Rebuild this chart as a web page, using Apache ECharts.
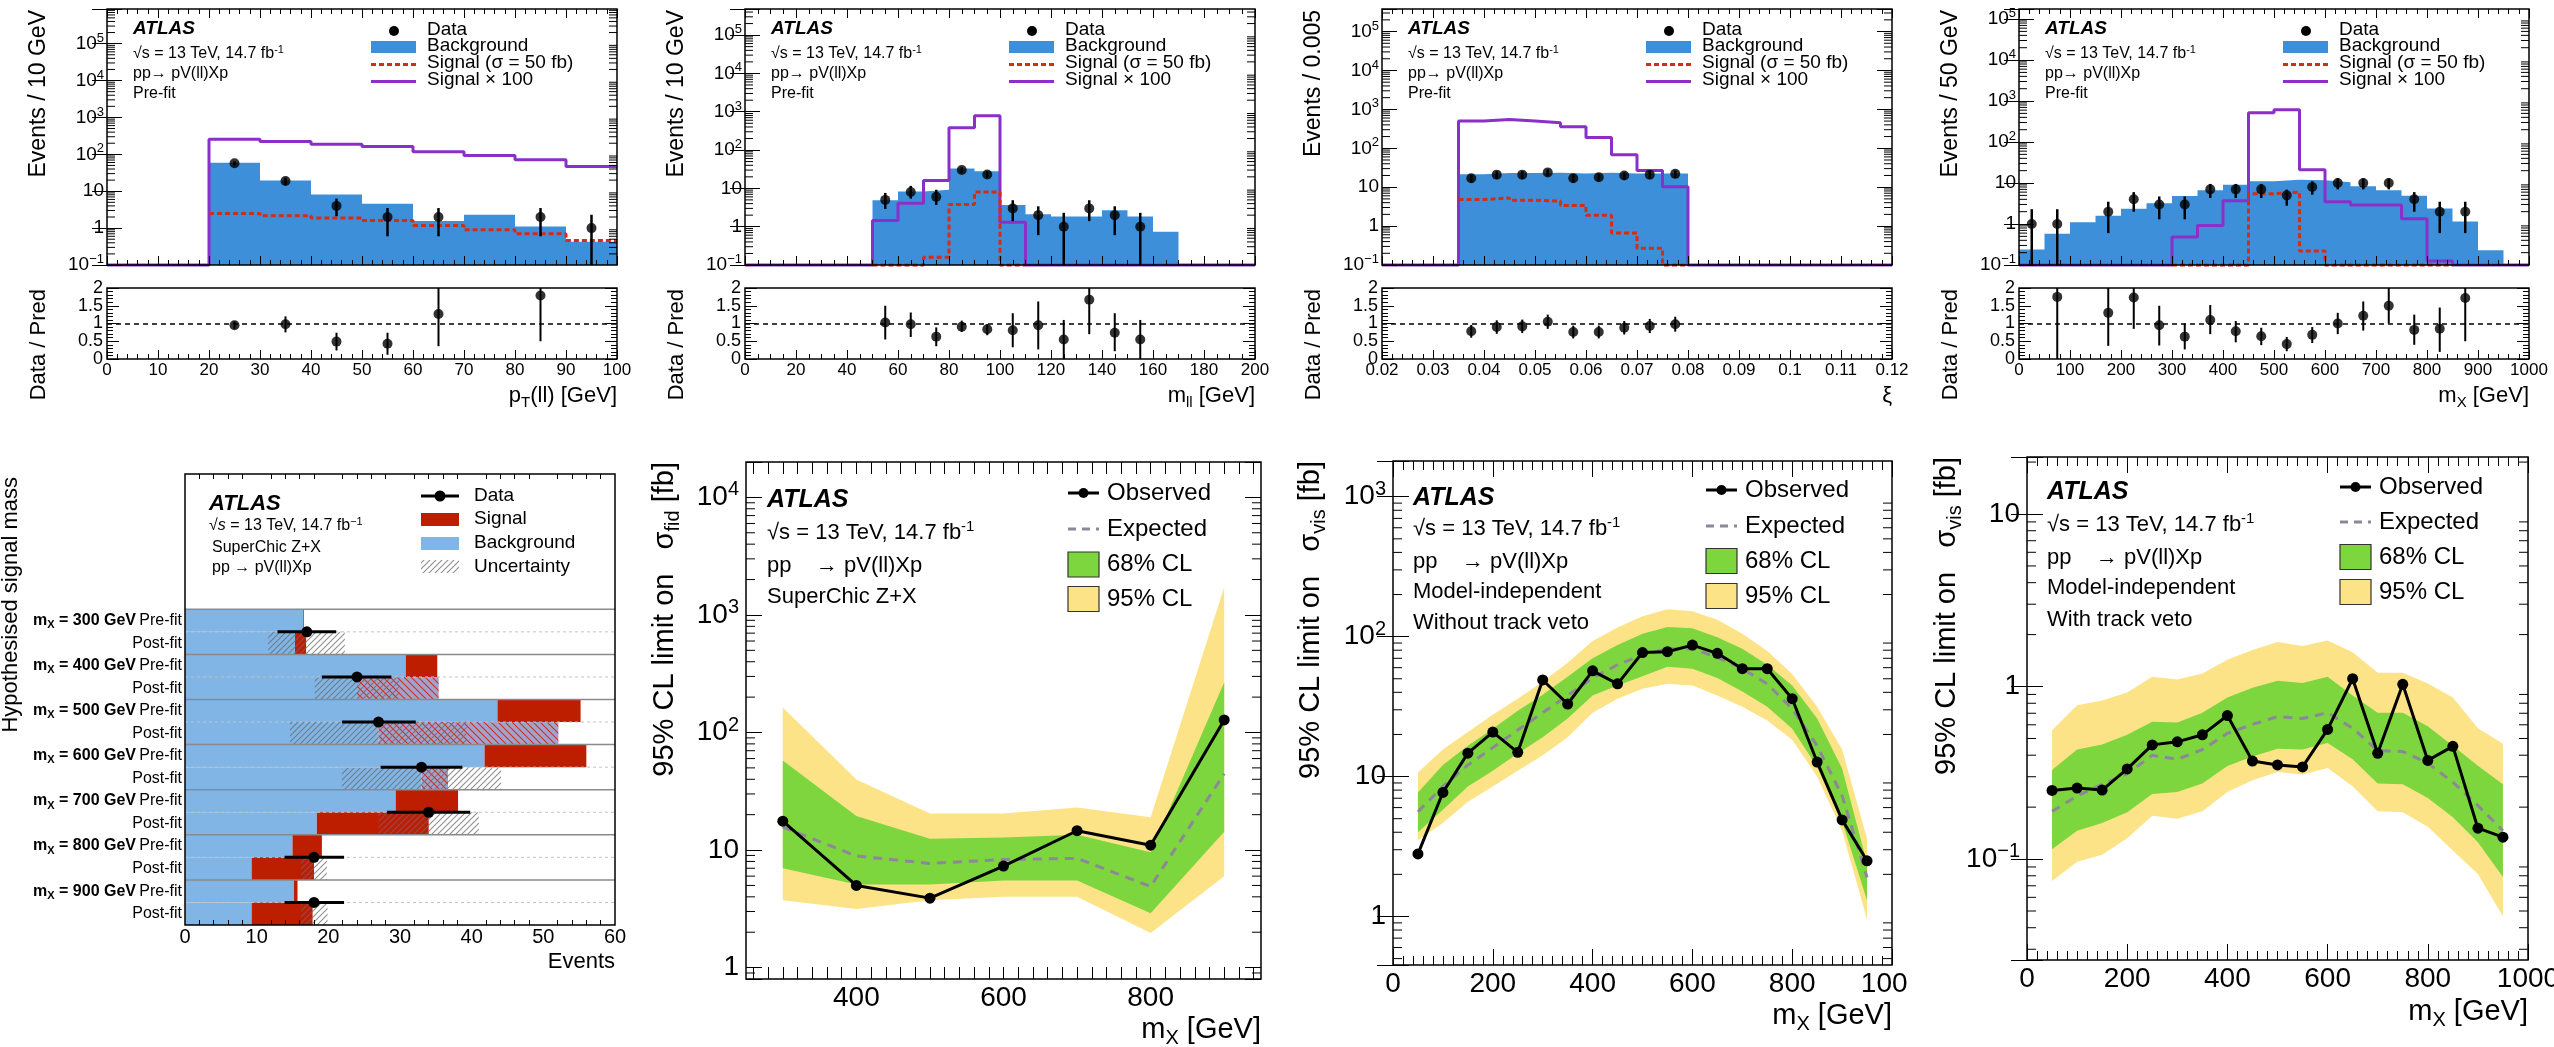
<!DOCTYPE html>
<html><head><meta charset="utf-8">
<script src="https://cdn.jsdelivr.net/npm/echarts@6/dist/echarts.min.js"></script>
<style>html,body{margin:0;padding:0;background:#fff}#c{width:2554px;height:1047px}</style>
</head><body><div id="c"></div>
<script>
// ================= DATA =================
// (a) pT(ll)
const ptEdges=[0,10,20,30,40,50,60,70,80,90,100];
const ptBkg=[0,0,59,19.5,8.1,4.6,1.55,2.3,1.1,0.43];
const ptSig=[null,null,2.5,2.17,1.87,1.62,1.18,0.9,0.7,0.46];
const ptSig100=[0,0,257,223,187,162,118,93,71,47];
const ptDataX=[25,35,45,55,65,85,95];
const ptData=[57,19,4,2,2,2,1];
const ptDataLo=[49.5,14.6,2.1,0.6,0.6,0.6,0];
const ptDataHi=[64.5,23.4,6.3,3.5,3.5,3.5,2.3];
const ptRatioX=[25,35,45,55,65,85];
const ptRatio=[0.95,0.98,0.49,0.43,1.27,1.79];
const ptRatioLo=[0.85,0.75,0.24,0.12,0.36,0.5];
const ptRatioHi=[1.06,1.2,0.74,0.74,2.1,2.1];
// (b) m_ll
const mllEdges=[0,10,20,30,40,50,60,70,80,90,100,110,120,130,140,150,160,170,180,190,200];
const mllBkg=[0,0,0,0,0,4.9,8.3,9.2,33,28,3.7,2.1,1.85,1.85,2.7,1.85,0.74,0,0,0];
const mllSig=[null,null,null,null,null,0,0,0.16,3.8,8,0,null,null,null,null,null,null,null,null,null];
const mllSig100=[0,0,0,0,0,1.45,4.1,16,380,790,1.3,0,0,0,0,0,0,0,0,0];
const mllDataX=[55,65,75,85,95,105,115,125,135,145,155];
const mllData=[5,8,6,30,23,3,2,1,3,2,1];
const mllDataLo=[2.9,5.4,3.7,25,18.5,1.4,0.6,0,1.4,0.6,0];
const mllDataHi=[7.6,11.6,9.2,35.5,28,4.9,3.4,2.3,4.9,3.4,2.3];
const mllRatio=[1.03,0.98,0.63,0.91,0.84,0.81,0.95,0.55,1.67,0.74,0.55];
const mllRatioLo=[0.55,0.62,0.36,0.76,0.67,0.33,0.27,0,0.7,0.22,0];
const mllRatioHi=[1.5,1.31,0.89,1.08,0.98,1.29,1.62,1.1,2.1,1.29,1.1];
// (c) xi
const xiEdges=[0.02,0.025,0.03,0.035,0.04,0.045,0.05,0.055,0.06,0.065,0.07,0.075,0.08,0.085,0.09,0.095,0.1,0.105,0.11,0.115,0.12];
const xiBkg=[0,0,0,21.5,23,23,23.5,22.5,23.5,22.5,22.5,22.5,0,0,0,0,0,0,0,0];
const xiSig=[null,null,null,4.8,5.3,4.6,4.4,3.4,1.9,0.66,0.27,0,null,null,null,null,null,null,null,null];
const xiSig100=[0,0,0,500,550,500,450,360,190,68,27,10.3,0,0,0,0,0,0,0,0];
const xiDataX=[0.0375,0.0425,0.0475,0.0525,0.0575,0.0625,0.0675,0.0725,0.0775];
const xiData=[17,21,21,24,17,18,20,21,22];
const xiDataLo=[12.9,16.4,16.4,19.1,12.9,13.8,15.5,16.4,17.3];
const xiDataHi=[21.1,25.6,25.6,28.9,21.1,22.2,24.5,25.6,26.7];
const xiRatio=[0.78,0.9,0.92,1.05,0.76,0.76,0.88,0.93,0.98];
const xiRatioLo=[0.6,0.71,0.73,0.85,0.58,0.58,0.69,0.73,0.77];
const xiRatioHi=[0.96,1.09,1.11,1.25,0.94,0.94,1.07,1.13,1.19];
// (d) m_X
const mxEdges=[0,50,100,150,200,250,300,350,400,450,500,550,600,650,700,750,800,850,900,950,1000];
const mxBkg=[0.24,0.58,1.1,1.58,2.35,3.2,4.8,6.7,9.1,11,12,11.7,10.5,8.3,6.7,4.9,2.4,1.15,0.23,0];
const mxSig=[null,null,null,null,null,null,0,0,0,5.5,6.0,0.22,0,0,0,0,0,null,null,null];
const mxSig100=[0,0,0,0,0,0,0.48,0.92,3.7,515,610,21,3.5,2.9,2.9,1.35,0.125,0,0,0];
const mxDataX=[25,75,175,225,275,325,375,425,475,525,575,625,675,725,775,825,875];
const mxData=[1,1,2,4,3,3,7,7,7,5,8,10,10,10,4,2,2];
const mxDataLo=[0,0,0.6,2,1.3,1.3,4.3,4.3,4.3,2.8,5.2,7,7,7,2,0.6,0.6];
const mxDataHi=[2.3,2.3,3.5,6,4.7,4.7,9.5,9.5,9.5,6.9,11,13,13,13,6,3.5,3.5];
const mxRatioX=[75,175,225,275,325,375,425,475,525,575,625,675,725,775,825,875];
const mxRatio=[1.75,1.3,1.73,0.95,0.63,1.1,0.78,0.64,0.42,0.68,1.0,1.22,1.5,0.82,0.85,1.72];
const mxRatioLo=[0,0.37,0.85,0.38,0.27,0.7,0.47,0.39,0.22,0.45,0.7,0.8,1.0,0.4,0.2,0.5];
const mxRatioHi=[2.1,2.1,2.1,1.5,1.0,1.52,1.07,0.88,0.62,0.9,1.3,1.62,2.0,1.25,1.45,2.1];
// (e) event yields
const masses=[300,400,500,600,700,800,900];
const preBkg=[16.5,30.8,43.6,41.8,29.4,15.0,15.2];
const preTot=[16.6,35.2,55.2,56.0,38.1,19.1,15.7];
const postBkg=[15.35,35.4,52.1,36.7,18.4,9.3,9.3];
const postTot=[16.9,24.0,27.0,33.0,34.0,18.0,17.8];
const uncLo=[11.6,18.1,14.65,21.9,27.0,16.2,16.2];
const uncHi=[22.3,29.9,39.3,44.1,41.0,19.8,19.9];
const obsEv=[17,24,27,33,34,18,18];
const obsEvLo=[12.9,19.1,21.9,27.3,28.2,13.9,13.9];
const obsEvHi=[21.1,28.8,32.2,38.7,39.8,22.2,22.2];
// (f) sigma_fid limits
const fidX=[300,400,500,600,700,800,900];
const fidObs=[17.6,5.0,3.9,7.3,14.6,11.0,128];
const fidExp=[15.7,8.9,7.7,8.3,8.5,4.9,44.6];
const fid68Lo=[7.0,5.1,5.1,5.5,5.5,2.9,14.3];
const fid68Hi=[57.7,19.5,12.5,12.8,13.5,9.6,267];
const fid95Lo=[3.75,3.15,3.75,4.0,4.0,1.97,6.0];
const fid95Hi=[163,39.8,20.5,20.5,23,19,1720];
// (g) sigma_vis, without track veto
const visX=[50,100,150,200,250,300,350,400,450,500,550,600,650,700,750,800,850,900,950];
const visObs=[2.8,7.7,14.7,20.8,14.9,49,33,57,46,77,78,87,76,59,59,36,12.7,4.9,2.5];
const visExp=[5.6,8.5,12.1,16.1,21.5,28.6,38,50.7,63,74,82,82,71,59,46,30.5,16.6,7.3,1.9];
const vis68Lo=[4.0,5.8,8.5,11,14.6,19.1,26,38,44.7,52,61,59,50.7,40.5,31.5,22,11.7,4.8,1.3];
const vis68Hi=[7.7,12.1,16.6,22,29.5,38.5,51.6,70,87,105,117,115,99,82,63,44.7,26,11.4,2.4];
const vis95Lo=[3.5,4.65,6.6,8.5,11,14.2,19.1,28.6,36,42.4,46,44.7,38,31.5,25.2,18.3,10,4.1,0.95];
const vis95Hi=[10.7,15.6,20.8,27.7,36,47.5,65,93,116,140,157,152,132,105,79,54,31.5,15.6,3.6];
// (h) sigma_vis, with track veto
const vetoX=[50,100,150,200,250,300,350,400,450,500,550,600,650,700,750,800,850,900,950];
const vetoObs=[0.25,0.258,0.251,0.333,0.459,0.478,0.525,0.679,0.37,0.351,0.342,0.564,1.11,0.41,1.03,0.373,0.45,0.151,0.134];
const vetoExp=[0.189,0.232,0.271,0.313,0.399,0.379,0.431,0.536,0.603,0.669,0.652,0.705,0.573,0.425,0.42,0.36,0.279,0.204,0.146];
const veto68Lo=[0.114,0.146,0.162,0.187,0.238,0.245,0.274,0.346,0.393,0.436,0.431,0.471,0.379,0.274,0.271,0.226,0.175,0.125,0.0787];
const veto68Hi=[0.328,0.431,0.461,0.525,0.625,0.619,0.705,0.865,0.985,1.08,1.05,1.14,0.888,0.705,0.705,0.588,0.454,0.347,0.271];
const veto95Lo=[0.0747,0.0966,0.106,0.132,0.178,0.171,0.189,0.245,0.286,0.32,0.309,0.337,0.264,0.189,0.187,0.154,0.112,0.082,0.0465];
const veto95Hi=[0.558,0.78,0.83,0.925,1.14,1.1,1.19,1.43,1.63,1.81,1.72,1.85,1.58,1.2,1.2,1.04,0.865,0.573,0.466];

// ================= STYLE =================
const F="'Liberation Sans', Arial, Helvetica, sans-serif";
const C_BKG='#3d8fd9', C_SIG='#d42d14', C_S100='#8b2fc9';
const C_G='#7ed63e', C_Y='#fde387', C_EXP='#8c8799';
const C_LB='#80b5e5', C_RED='#be1e00', C_MAUVE='#a2a3cd';

const grids=[], xAxes=[], yAxes=[], series=[], graphics=[];
function grid(l,t,r,b){grids.push({left:l,top:t,width:r-l,height:b-t,show:true,borderColor:'#000',borderWidth:1.5,backgroundColor:'rgba(0,0,0,0)',containLabel:false,outerBoundsMode:'none',z:10});return grids.length-1;}
function xax(o){xAxes.push(o);return xAxes.length-1;}
function yax(o){yAxes.push(o);return yAxes.length-1;}

function isDecade(v){const l=Math.log10(v);return Math.abs(l-Math.round(l))<1e-6;}
function logLabel(v){if(!isDecade(v))return '';const e=Math.round(Math.log10(v));if(e===0)return '{b|1}';if(e===1)return '{b|10}';return '{b|10}{s|'+(e<0?'\u2212'+(-e):e)+'}';}
function logRich(fs){const s=Math.round(fs*0.7);return {b:{fontSize:fs,fontFamily:F,color:'#000',lineHeight:Math.round(fs*1.25)},s:{fontSize:s,fontFamily:F,color:'#000',verticalAlign:'top',lineHeight:s}};}
function txtRich(fs){const s=Math.round(fs*0.68);return {n:{fontSize:fs,fontFamily:F,fill:'#000',lineHeight:Math.round(fs*1.25)},i:{fontSize:fs,fontFamily:F,fontStyle:'italic',fill:'#000',lineHeight:Math.round(fs*1.25)},s:{fontSize:s,fontFamily:F,fill:'#000',verticalAlign:'top',lineHeight:s},sub:{fontSize:s,fontFamily:F,fill:'#000',verticalAlign:'bottom',lineHeight:s}};}
function T(x,y,text,fs,o){o=o||{};const al=o.align||'left';
  const st={text:text,fontSize:fs,fontFamily:F,fill:'#000',align:al,textAlign:al,verticalAlign:'middle',textVerticalAlign:'middle'};
  if(o.bold)st.fontWeight='bold'; if(o.italic)st.fontStyle='italic';
  if(o.rich)st.rich=txtRich(fs);
  graphics.push({type:'text',x:x,y:y,rotation:o.rot||0,z:100,silent:true,style:st});}
function G(el){el.z=100;el.silent=true;graphics.push(el);}

function logMinor(min,max){const out=[];for(let n=Math.floor(Math.log10(min))-1;n<=Math.ceil(Math.log10(max));n++){for(let m=2;m<=9;m++){const v=m*Math.pow(10,n);if(v>min*1.0001&&v<max*0.9999)out.push(v);}}return out;}
function minorTickSeries(xi,yi,xmin,vals,len){
  return {type:'custom',xAxisIndex:xi,yAxisIndex:yi,silent:true,z:12,clip:false,data:vals.map(v=>[xmin,v]),
    renderItem:(p,api)=>{const cs=p.coordSys;const y=api.coord([api.value(0),api.value(1)])[1];
      return {type:'group',children:[
        {type:'line',shape:{x1:cs.x,y1:y,x2:cs.x+len,y2:y},style:{stroke:'#000',lineWidth:1}},
        {type:'line',shape:{x1:cs.x+cs.width,y1:y,x2:cs.x+cs.width-len,y2:y},style:{stroke:'#000',lineWidth:1}}]};}};
}
function errSeries(xi,yi,xs,lo,hi,cmin,cmax,lw){
  return {type:'custom',xAxisIndex:xi,yAxisIndex:yi,silent:true,z:9,clip:false,
    data:xs.map((x,i)=>[x,Math.max(lo[i],cmin),Math.min(hi[i],cmax)]),encode:{x:0,y:[1,2]},
    renderItem:(p,api)=>{const a=api.coord([api.value(0),api.value(1)]);const b=api.coord([api.value(0),api.value(2)]);
      return {type:'line',shape:{x1:a[0],y1:a[1],x2:b[0],y2:b[1]},style:{stroke:'#000',lineWidth:lw}};}};
}
function stepPts(edges,vals,floor,dropZero){
  const pts=[];let last=null;
  for(let i=0;i<vals.length;i++){let v=vals[i];const empty=(v==null)||(dropZero&&!(v>0));
    if(empty){if(last!==null){pts.push([edges[i],last]);pts.push([edges[i],null]);last=null;}continue;}
    if(v<floor)v=floor;pts.push([edges[i],v]);last=v;}
  if(last!==null)pts.push([edges[vals.length],last]);
  return pts;
}
const isInt=v=>Math.abs(v-Math.round(v))<1e-9;

// ================= TOP ROW: distributions =================
function histPanel(c){
  const L=c.left,R=L+510,ymin=0.1;
  const gm=grid(L,9,R,265), gr=grid(L,288,R,359);
  const tick={inside:true,length:9,lineStyle:{color:'#000',width:1}};
  const mt={show:true,splitNumber:c.minor,length:5,lineStyle:{color:'#000',width:1}};
  const xb={type:'value',min:c.xmin,max:c.xmax,interval:c.xint,axisLine:{show:false},splitLine:{show:false},z:11};
  const xm=xax(Object.assign({gridIndex:gm,position:'bottom',axisTick:tick,minorTick:mt,axisLabel:{show:false}},xb));
  xax(Object.assign({gridIndex:gm,position:'top',axisTick:tick,minorTick:mt,axisLabel:{show:false}},xb));
  const yl={type:'log',logBase:10,min:ymin,max:c.ymax,axisLine:{show:false},splitLine:{show:false},z:11,axisTick:{inside:true,length:15,lineStyle:{color:'#000',width:1}}};
  const ym=yax(Object.assign({gridIndex:gm,position:'left',axisLabel:{formatter:logLabel,rich:logRich(19),margin:3,showMinLabel:true}},yl));
  yax(Object.assign({gridIndex:gm,position:'right',axisLabel:{show:false}},yl));
  const xr=xax(Object.assign({gridIndex:gr,position:'bottom',axisTick:tick,minorTick:mt,axisLabel:{fontSize:17,fontFamily:F,color:'#000',margin:3,formatter:c.xfmt,showMinLabel:true,showMaxLabel:true}},xb));
  const yrb={type:'value',min:0,max:2,interval:0.5,axisLine:{show:false},splitLine:{show:false},z:11};
  const lab={fontSize:18,fontFamily:F,color:'#000',margin:4,showMinLabel:true,showMaxLabel:true,hideOverlap:false};
  // integer labels + ticks
  const yr=yax(Object.assign({gridIndex:gr,position:'left',axisTick:{inside:true,length:12,lineStyle:{color:'#000'}},minorTick:{show:true,splitNumber:5,length:6,lineStyle:{color:'#000'}},
    axisLabel:Object.assign({formatter:v=>isInt(v)?String(Math.round(v)):''},lab)},yrb));
  // half-integer labels
  yax(Object.assign({gridIndex:gr,position:'left',offset:0,axisTick:{show:false},
    axisLabel:Object.assign({formatter:v=>isInt(v)?'':String(v),showMinLabel:false,showMaxLabel:false},lab)},yrb));
  yax(Object.assign({gridIndex:gr,position:'right',axisTick:{inside:true,length:12,lineStyle:{color:'#000'}},minorTick:{show:true,splitNumber:5,length:6,lineStyle:{color:'#000'}},axisLabel:{show:false}},yrb));

  series.push({type:'line',xAxisIndex:xm,yAxisIndex:ym,step:'end',symbol:'none',silent:true,z:1,data:stepPts(c.edges,c.bkg,ymin,true),lineStyle:{width:0,color:C_BKG},areaStyle:{color:C_BKG,opacity:1,origin:'start'}});
  series.push({type:'line',xAxisIndex:xm,yAxisIndex:ym,step:'end',symbol:'none',silent:true,z:3,clip:false,data:stepPts(c.edges,c.sig100,ymin,false),lineStyle:{width:3,color:C_S100}});
  series.push({type:'line',xAxisIndex:xm,yAxisIndex:ym,step:'end',symbol:'none',silent:true,z:4,clip:false,data:stepPts(c.edges,c.sig,ymin,false),lineStyle:{width:3,color:C_SIG,type:[5,3]}});
  series.push(errSeries(xm,ym,c.dx,c.dlo,c.dhi,ymin,c.ymax,2.5));
  series.push({type:'scatter',xAxisIndex:xm,yAxisIndex:ym,symbol:'circle',symbolSize:10,itemStyle:{color:'#000'},z:10,silent:true,data:c.dx.map((x,i)=>[x,c.dy[i]])});
  series.push(minorTickSeries(xm,ym,c.xmin,logMinor(ymin,c.ymax),8));
  series.push(errSeries(xr,yr,c.rx,c.rlo,c.rhi,0,2,2));
  series.push({type:'scatter',xAxisIndex:xr,yAxisIndex:yr,symbol:'circle',symbolSize:10,itemStyle:{color:'#000'},z:10,silent:true,data:c.rx.map((x,i)=>[x,c.ry[i]]),
    markLine:{silent:true,symbol:['none','none'],label:{show:false},lineStyle:{color:'#000',width:1.5,type:[5,4]},data:[{yAxis:1}]}});

  // texts
  T(L+26,28.6,'ATLAS',19,{bold:true,italic:true});
  T(L+26,54,'{n|\u221As = 13 TeV, 14.7 fb}{s|-1}',16,{rich:true});
  T(L+26,74,'pp\u2192 pV(ll)Xp',16);
  T(L+26,94,'Pre-fit',16);
  // legend
  G({type:'circle',shape:{cx:L+287,cy:31,r:5},style:{fill:'#000'}});
  G({type:'rect',shape:{x:L+264,y:41,width:45,height:12},style:{fill:C_BKG}});
  G({type:'line',shape:{x1:L+264,y1:64.5,x2:L+309,y2:64.5},style:{stroke:C_SIG,lineWidth:3,lineDash:[5,3]}});
  G({type:'line',shape:{x1:L+264,y1:81.5,x2:L+309,y2:81.5},style:{stroke:C_S100,lineWidth:3}});
  T(L+320,29.6,'Data',19); T(L+320,45.5,'Background',19);
  T(L+320,63,'Signal (\u03C3 = 50 fb)',19); T(L+320,80,'Signal \u00D7 100',19);
  // axis titles
  T(L-68,10,c.ytitle,23,{rot:Math.PI/2,align:'right'});
  T(L-68,289,'Data / Pred',22,{rot:Math.PI/2,align:'right'});
  T(R,396,c.xtitle,22,{align:'right',rich:true});
}
const intFmt=v=>String(Math.round(v));
histPanel({left:107,xmin:0,xmax:100,xint:10,minor:5,ymax:8.7e5,edges:ptEdges,bkg:ptBkg,sig:ptSig,sig100:ptSig100,dx:ptDataX,dy:ptData,dlo:ptDataLo,dhi:ptDataHi,rx:ptRatioX,ry:ptRatio,rlo:ptRatioLo,rhi:ptRatioHi,ytitle:'Events / 10 GeV',xtitle:'{n|p}{sub|T}{n|(ll) [GeV]}',xfmt:intFmt});
histPanel({left:745,xmin:0,xmax:200,xint:20,minor:4,ymax:4.8e5,edges:mllEdges,bkg:mllBkg,sig:mllSig,sig100:mllSig100,dx:mllDataX,dy:mllData,dlo:mllDataLo,dhi:mllDataHi,rx:mllDataX,ry:mllRatio,rlo:mllRatioLo,rhi:mllRatioHi,ytitle:'Events / 10 GeV',xtitle:'{n|m}{sub|ll}{n| [GeV]}',xfmt:intFmt});
histPanel({left:1382,xmin:0.02,xmax:0.12,xint:0.01,minor:5,ymax:3.8e5,edges:xiEdges,bkg:xiBkg,sig:xiSig,sig100:xiSig100,dx:xiDataX,dy:xiData,dlo:xiDataLo,dhi:xiDataHi,rx:xiDataX,ry:xiRatio,rlo:xiRatioLo,rhi:xiRatioHi,ytitle:'Events / 0.005',xtitle:'{n|\u03BE}',xfmt:v=>String(+v.toFixed(3))});
histPanel({left:2019,xmin:0,xmax:1000,xint:100,minor:5,ymax:1.76e5,edges:mxEdges,bkg:mxBkg,sig:mxSig,sig100:mxSig100,dx:mxDataX,dy:mxData,dlo:mxDataLo,dhi:mxDataHi,rx:mxRatioX,ry:mxRatio,rlo:mxRatioLo,rhi:mxRatioHi,ytitle:'Events / 50 GeV',xtitle:'{n|m}{sub|X}{n| [GeV]}',xfmt:intFmt});

// ================= BOTTOM-LEFT: yields =================
function hatch(bg,color,dir,size,lw){
  const c=document.createElement('canvas');c.width=c.height=size;const g=c.getContext('2d');
  if(bg){g.fillStyle=bg;g.fillRect(0,0,size,size);}
  g.strokeStyle=color;g.lineWidth=lw;g.beginPath();
  if(dir>0){g.moveTo(0,size);g.lineTo(size,0);g.moveTo(-2,2);g.lineTo(2,-2);g.moveTo(size-2,size+2);g.lineTo(size+2,size-2);}
  else{g.moveTo(0,0);g.lineTo(size,size);g.moveTo(size-2,-2);g.lineTo(size+2,2);g.moveTo(-2,size-2);g.lineTo(2,size+2);}
  g.stroke();return c;
}
const PAT_UNC={image:hatch(null,'rgba(105,105,105,0.75)',1,6,1.1),repeat:'repeat'};
const PAT_NEG={image:hatch(C_MAUVE,'#d23020',-1,7,1.1),repeat:'repeat'};
function rowLabel(v){if(v.indexOf('pre')===0)return '{b|m}{bs|X}{b| = '+v.slice(3)+' GeV} {r|Pre-fit}';if(v.indexOf('post')===0)return '{r|Post-fit}';return '';}
function rectSeries(xi,yi,items,fill,z){
  return {type:'custom',xAxisIndex:xi,yAxisIndex:yi,silent:true,z:z,data:items,encode:{x:[0,2],y:1},
    renderItem:(p,api)=>{const a=api.coord([api.value(0),api.value(1)]);const b=api.coord([api.value(2),api.value(1)]);const h=api.size([0,1])[1];
      return {type:'rect',shape:{x:a[0],y:a[1]-h/2,width:b[0]-a[0],height:h},style:{fill:fill}};}};
}
(function(){
  const g=grid(185,474,615,925);
  const xb={type:'value',min:0,max:60,interval:10,axisLine:{show:false},splitLine:{show:false},z:11};
  const tick={inside:true,length:10,lineStyle:{color:'#000'}}, mt={show:true,splitNumber:5,length:5,lineStyle:{color:'#000'}};
  const xi=xax(Object.assign({gridIndex:g,position:'bottom',axisTick:tick,minorTick:mt,axisLabel:{fontSize:20,fontFamily:F,color:'#000',margin:2,showMinLabel:true,showMaxLabel:true}},xb));
  xax(Object.assign({gridIndex:g,position:'top',axisTick:tick,minorTick:mt,axisLabel:{show:false}},xb));
  const rows=['r0','r1','r2','r3','r4','r5'];masses.forEach(m=>{rows.push('pre'+m);rows.push('post'+m);});
  const yb={type:'category',data:rows,inverse:true,axisLine:{show:false},splitLine:{show:false},z:11,axisTick:{inside:true,length:8,alignWithLabel:true,interval:0,lineStyle:{color:'#000'}}};
  const rich={b:{fontSize:16,fontWeight:'bold',fontFamily:F,color:'#000',lineHeight:20},bs:{fontSize:11,fontWeight:'bold',fontFamily:F,color:'#000',verticalAlign:'bottom',lineHeight:11},r:{fontSize:16,fontFamily:F,color:'#000',lineHeight:20}};
  const yi=yax(Object.assign({gridIndex:g,position:'left',axisLabel:{interval:0,margin:3,formatter:rowLabel,rich:rich}},yb));
  yax(Object.assign({gridIndex:g,position:'right',axisLabel:{show:false}},yb));
  const bk=[],sg=[],ng=[],un=[];
  masses.forEach((m,i)=>{const pr=6+2*i,po=7+2*i;
    bk.push([0,pr,preBkg[i]]);bk.push([0,po,Math.min(postBkg[i],postTot[i])]);
    sg.push([preBkg[i],pr,preTot[i]]);
    if(postTot[i]>postBkg[i])sg.push([postBkg[i],po,postTot[i]]);else ng.push([postTot[i],po,postBkg[i]]);
    un.push([uncLo[i],po,uncHi[i]]);});
  series.push(rectSeries(xi,yi,bk,C_LB,2));
  series.push(rectSeries(xi,yi,sg,C_RED,3));
  series.push(rectSeries(xi,yi,ng,PAT_NEG,3));
  series.push(rectSeries(xi,yi,un,PAT_UNC,4));
  series.push({type:'custom',xAxisIndex:xi,yAxisIndex:yi,silent:true,z:6,data:masses.map((m,i)=>[0,6+2*i]),
    renderItem:(p,api)=>{const cs=p.coordSys;const y=api.coord([0,api.value(1)])[1];const h=api.size([0,1])[1];
      return {type:'group',children:[
        {type:'line',shape:{x1:cs.x,y1:y-h/2,x2:cs.x+cs.width,y2:y-h/2},style:{stroke:'#8a8a8a',lineWidth:1.5}},
        {type:'line',shape:{x1:cs.x,y1:y+h/2,x2:cs.x+cs.width,y2:y+h/2},style:{stroke:'#c4c4c4',lineWidth:1,lineDash:[3,3]}}]};}});
  series.push({type:'custom',xAxisIndex:xi,yAxisIndex:yi,silent:true,z:8,data:masses.map((m,i)=>[obsEv[i],7+2*i,obsEvLo[i],obsEvHi[i]]),
    renderItem:(p,api)=>{const r=api.value(1);const h=api.size([0,1])[1];const c=api.coord([api.value(0),r]);const y=c[1]-h/2;
      const a=api.coord([api.value(2),r])[0],b=api.coord([api.value(3),r])[0];
      return {type:'group',children:[{type:'line',shape:{x1:a,y1:y,x2:b,y2:y},style:{stroke:'#000',lineWidth:3}},{type:'circle',shape:{cx:c[0],cy:y,r:5.5},style:{fill:'#000'}}]};}});
  T(209,504,'ATLAS',22,{bold:true,italic:true});
  T(209,526,'{n|\u221A}{i|s}{n| = 13 TeV, 14.7 fb}{s|\u22121}',16,{rich:true});
  T(212,548,'SuperChic Z+X',16);
  T(212,568,'pp \u2192 pV(ll)Xp',16);
  G({type:'line',shape:{x1:421,y1:496,x2:459,y2:496},style:{stroke:'#000',lineWidth:3}});
  G({type:'circle',shape:{cx:440,cy:496,r:5.5},style:{fill:'#000'}});
  G({type:'rect',shape:{x:421,y:513,width:38,height:13},style:{fill:C_RED}});
  G({type:'rect',shape:{x:421,y:537,width:38,height:13},style:{fill:C_LB}});
  G({type:'rect',shape:{x:421,y:560,width:38,height:13},style:{fill:PAT_UNC}});
  T(474,496,'Data',19);T(474,519,'Signal',19);T(474,543,'Background',19);T(474,567,'Uncertainty',19);
  T(11,477,'Hypothesised signal mass',22,{rot:Math.PI/2,align:'right'});
  T(615,962,'Events',22,{align:'right'});
})();

// ================= BOTTOM: limits =================
function bandSeries(xi,yi,xs,lo,hi,color,z){
  return {type:'custom',xAxisIndex:xi,yAxisIndex:yi,silent:true,z:z,clip:true,data:xs.map((x,i)=>[x,lo[i],hi[i]]),encode:{x:0,y:[1,2]},
    renderItem:(p,api)=>{if(p.dataIndex!==0)return null;
      const top=xs.map((x,i)=>api.coord([x,hi[i]]));const bot=xs.map((x,i)=>api.coord([x,lo[i]])).reverse();
      return {type:'polygon',shape:{points:top.concat(bot)},style:{fill:color}};}};
}
function limitPanel(c){
  const g=grid(c.l,c.t,c.r,c.b);
  const xb={type:'value',min:c.xmin,max:c.xmax,interval:c.xint,axisLine:{show:false},splitLine:{show:false},z:11};
  let tick,mt;
  if(c.tickVals){tick={inside:true,length:12,customValues:c.tickVals,lineStyle:{color:'#000'}};mt={show:false};}
  else{tick={inside:true,length:16,lineStyle:{color:'#000'}};mt={show:true,splitNumber:10,length:9,lineStyle:{color:'#000'}};}
  const xi=xax(Object.assign({gridIndex:g,position:'bottom',axisTick:tick,minorTick:mt,axisLabel:{fontSize:28,fontFamily:F,color:'#000',margin:5,formatter:c.xfmt,showMinLabel:true,showMaxLabel:true}},xb));
  xax(Object.assign({gridIndex:g,position:'top',axisTick:tick,minorTick:mt,axisLabel:{show:false}},xb));
  const yl={type:'log',logBase:10,min:c.ymin,max:c.ymax,axisLine:{show:false},splitLine:{show:false},z:11,axisTick:{inside:true,length:16,lineStyle:{color:'#000'}}};
  const yi=yax(Object.assign({gridIndex:g,position:'left',axisLabel:{formatter:logLabel,rich:logRich(28),margin:7}},yl));
  yax(Object.assign({gridIndex:g,position:'right',axisLabel:{show:false}},yl));
  series.push(bandSeries(xi,yi,c.x,c.lo95,c.hi95,C_Y,1));
  series.push(bandSeries(xi,yi,c.x,c.lo68,c.hi68,C_G,2));
  series.push({type:'line',xAxisIndex:xi,yAxisIndex:yi,symbol:'none',silent:true,z:3,data:c.x.map((x,i)=>[x,c.exp[i]]),lineStyle:{color:C_EXP,width:3,type:[9,7]}});
  series.push({type:'line',xAxisIndex:xi,yAxisIndex:yi,symbol:'circle',symbolSize:11,showSymbol:true,silent:true,z:4,data:c.x.map((x,i)=>[x,c.obs[i]]),lineStyle:{color:'#000',width:3},itemStyle:{color:'#000'}});
  series.push(minorTickSeries(xi,yi,c.xmin,logMinor(c.ymin,c.ymax),9));
  // texts
  T(c.tx,c.ty[0],'ATLAS',25,{bold:true,italic:true});
  T(c.tx,c.ty[1],'{n|\u221As = 13 TeV, 14.7 fb}{s|-1}',22,{rich:true});
  T(c.tx,c.ty[2],'pp    \u2192 pV(ll)Xp',22);
  for(let k=0;k<c.lines.length;k++)T(c.tx,c.ty[3+k],c.lines[k],22);
  // legend
  const x0=c.lx,x1=c.lx+31,ys=c.ly;
  G({type:'line',shape:{x1:x0,y1:ys[0],x2:x1,y2:ys[0]},style:{stroke:'#000',lineWidth:3}});
  G({type:'circle',shape:{cx:(x0+x1)/2,cy:ys[0],r:5},style:{fill:'#000'}});
  G({type:'line',shape:{x1:x0,y1:ys[1],x2:x1,y2:ys[1]},style:{stroke:C_EXP,lineWidth:3,lineDash:[8,6]}});
  G({type:'rect',shape:{x:x0,y:ys[2]-12.5,width:31,height:25},style:{fill:C_G,stroke:'#333',lineWidth:1.2}});
  G({type:'rect',shape:{x:x0,y:ys[3]-12.5,width:31,height:25},style:{fill:C_Y,stroke:'#333',lineWidth:1.2}});
  const lab=['Observed','Expected','68% CL','95% CL'];
  for(let k=0;k<4;k++)T(x1+8,ys[k],lab[k],24);
  T(c.yx,c.t,'{n|95% CL limit on   \u03C3}{sub|'+c.sub+'}{n| [fb]}',29,{rot:Math.PI/2,align:'right',rich:true});
  T(c.r,c.xty,'{n|m}{sub|X}{n| [GeV]}',29,{align:'right',rich:true});
}
const fidTicks=[];for(let v=260;v<950;v+=20)fidTicks.push(v);
limitPanel({l:746,t:462,r:1261,b:979,xmin:250,xmax:950,xint:50,tickVals:fidTicks,xfmt:v=>(v%200===0?String(v):''),ymin:0.8,ymax:2e4,
  x:fidX,obs:fidObs,exp:fidExp,lo68:fid68Lo,hi68:fid68Hi,lo95:fid95Lo,hi95:fid95Hi,
  tx:767,ty:[500,533,566,597],lines:['SuperChic Z+X'],lx:1068,ly:[493,529,564.5,599],yx:665,sub:'fid',xty:1030});
limitPanel({l:1393,t:461,r:1892,b:965,xmin:0,xmax:1000,xint:200,xfmt:intFmt,ymin:0.45,ymax:1800,
  x:visX,obs:visObs,exp:visExp,lo68:vis68Lo,hi68:vis68Hi,lo95:vis95Lo,hi95:vis95Hi,
  tx:1413,ty:[498,529,562,592,623],lines:['Model-independent','Without track veto'],lx:1706,ly:[490,526,561,596],yx:1311,sub:'vis',xty:1016});
limitPanel({l:2027,t:457,r:2528,b:960,xmin:0,xmax:1000,xint:200,xfmt:intFmt,ymin:0.026,ymax:21.4,
  x:vetoX,obs:vetoObs,exp:vetoExp,lo68:veto68Lo,hi68:veto68Hi,lo95:veto95Lo,hi95:veto95Hi,
  tx:2047,ty:[492,525,558,588,620],lines:['Model-independent','With track veto'],lx:2340,ly:[487,522,557,592],yx:1947,sub:'vis',xty:1012});
// the neighbouring figure covers the last digit of the middle panel's "1000"
G({type:'rect',shape:{x:1908,y:968,width:18,height:34},style:{fill:'#fff'}});

const chart=echarts.init(document.getElementById('c'),null,{renderer:'canvas',width:2554,height:1047});
chart.setOption({animation:false,backgroundColor:'#fff',textStyle:{fontFamily:F},grid:grids,xAxis:xAxes,yAxis:yAxes,series:series,graphic:graphics});
</script></body></html>
